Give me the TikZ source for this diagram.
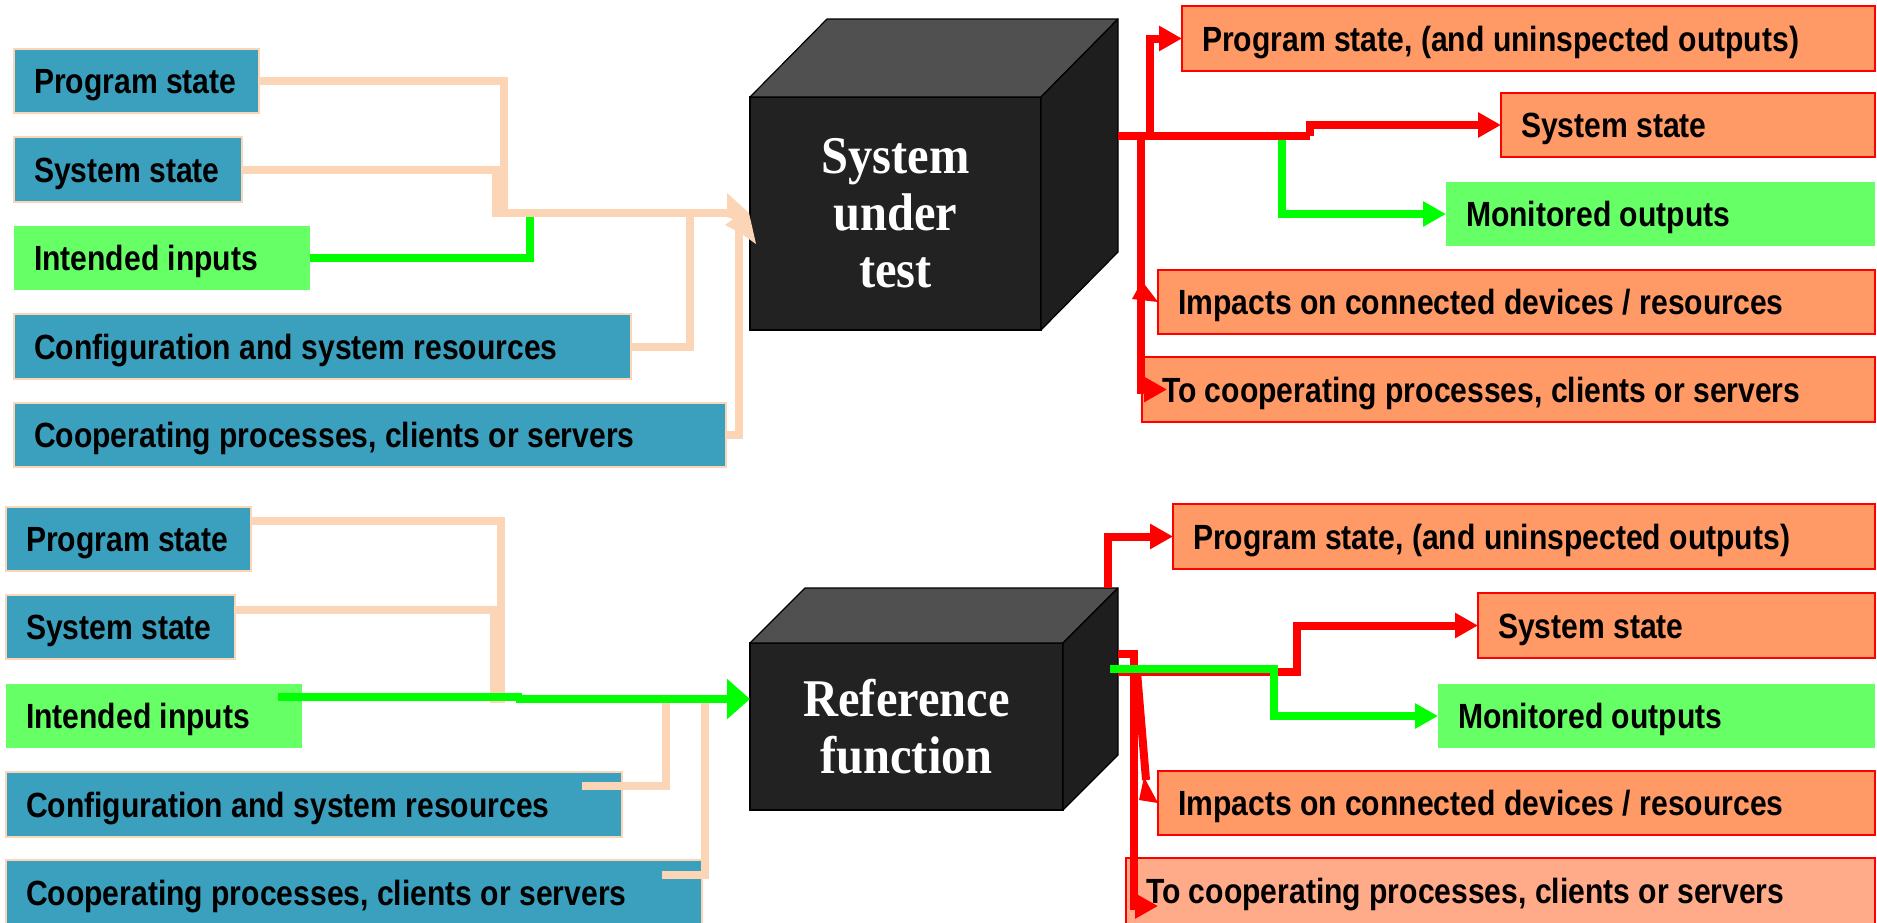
\documentclass[tikz,border=0pt]{standalone}
\usepackage{fontspec}
\setmainfont{Liberation Sans}
\newfontfamily\labelfont[FakeStretch=0.86]{Liberation Sans}
\newfontfamily\cubefont[FakeStretch=0.915]{Liberation Serif}
\usetikzlibrary{arrows.meta,calc}

\definecolor{inblue}{HTML}{3B9FBE}
\definecolor{peach}{HTML}{FBD5B5}
\definecolor{salmon}{HTML}{FF9966}
\definecolor{lightsalmon}{HTML}{FFAA88}
\definecolor{okgreen}{HTML}{66FF66}
\definecolor{linegreen}{HTML}{00FF00}
\definecolor{cubefront}{HTML}{222222}
\definecolor{cubetop}{HTML}{505050}
\definecolor{cubeside}{HTML}{1E1E1E}

% fixed-width, left-aligned label text (width in pt)
\newcommand\lbl[2]{\makebox[#1pt][l]{#2}}

\tikzset{
  labelbox/.style={anchor=north west, inner xsep=10pt, inner ysep=0pt, outer sep=0pt,
    text height=12.5pt, text depth=0pt,
    font=\labelfont\bfseries\fontsize{17.5}{20}\selectfont},
  inbox/.style={labelbox, fill=inblue, draw=peach, line width=1pt},
  outbox/.style={labelbox, fill=salmon, draw=red, line width=1pt},
  goodbox/.style={labelbox, fill=okgreen},
  cubebox/.style={anchor=north west, fill=cubefront, draw=black, line width=0.6pt,
    outer sep=0pt, inner sep=0pt, text=white, align=center,
    font=\cubefont\bfseries\fontsize{26.5}{28.5}\selectfont},
  feed/.style={draw=peach, line width=4pt},
  good/.style={draw=linegreen, line width=4pt},
  bad/.style={draw=red, line width=4pt},
  tip/.style={-{Triangle[length=11.5pt,width=12pt]}},
  bigtip/.style={-{Triangle[length=11.5pt,width=19.5pt]}},
}

\begin{document}
\begin{tikzpicture}[x=0.5pt,y=-0.5pt]
\fill[white] (0,0) rectangle (1877,922);
\useasboundingbox (0,0) rectangle (1877,922);
\clip (0,0) rectangle (1877,922);

% ---------- upper row: system under test ----------
\node[inbox, minimum height=32pt] (ps1) at (14,49) {\lbl{102.5}{Program state}};
\node[inbox, minimum height=32.5pt] (ss1) at (14,137) {\lbl{94}{System state}};
\node[goodbox, minimum height=32pt] (ii1) at (14,226) {\lbl{128}{Intended inputs}};
\node[inbox, minimum height=32.5pt] (cf1) at (14,314) {\lbl{288.5}{Configuration and system resources}};
\node[inbox, minimum height=32pt] (cp1) at (14,403) {\lbl{336}{Cooperating processes, clients or servers}};

\node[outbox, minimum height=32.5pt] (po1) at (1182,6) {\lbl{326.5}{Program state, (and uninspected outputs)}};
\node[outbox, minimum height=32pt] (so1) at (1501,93) {\lbl{167}{System state}};
\node[goodbox, minimum height=32pt] (mo1) at (1446,182) {\lbl{194.5}{Monitored outputs}};
\node[outbox, minimum height=32pt] (im1) at (1158,270) {\lbl{338.5}{Impacts on connected devices / resources}};
\node[outbox, minimum height=32.5pt] (tc1) at (1142,357) {\lbl{346.5}{To cooperating processes, clients or servers}};

% cube
\node[cubebox, minimum width=145.5pt, minimum height=116.5pt] (sut) at (750,97) {System\\under\\test};
\filldraw[fill=cubetop, draw=black, line width=0.6pt, line join=round]
  (sut.north west) -- ++(77,-78) -- ++(291,0) -- (sut.north east) -- cycle;
\filldraw[fill=cubeside, draw=black, line width=0.6pt, line join=round]
  (sut.north east) -- ++(77,-78) -- ++(0,233) -- (sut.south east) -- cycle;

% inputs
\draw[good] (ii1.east) -| (530,213);
\draw[feed] (ps1.east) -| (504,213);
\draw[feed] (cf1.east) -| (690,213);
\draw[feed] (cp1.east) -| (739,230);
\draw[feed] (ss1.east) -| (496,213) -- (727,213);
\fill[peach] (727,193) -- (749,213) -- (756,244) -- (739,232) -- (725,225)
  -- (733,219) -- (727,217) -- cycle;

% outputs
\coordinate (sutout) at (1118,136);
\draw[good, tip] (1282,139) |- (mo1.west);
\draw[bad] (sutout) -- (1310,136);
\draw[bad, tip] (1310,136) |- (so1.west);
\draw[bad, tip] (1150,136) |- (po1.west);
\draw[bad, tip] (1141,136) |- ($(tc1.west)+(25,0)$);
\fill[red] (im1.west) -- ++(-16,-21) -- ++(-10,18) -- cycle;

% ---------- lower row: reference function ----------
\node[inbox, minimum height=32pt] (ps2) at (6,507) {\lbl{102.5}{Program state}};
\node[inbox, minimum height=32pt] (ss2) at (6,595) {\lbl{94.5}{System state}};
\node[goodbox, minimum height=32pt] (ii2) at (6,684) {\lbl{128}{Intended inputs}};
\node[inbox, minimum height=32.5pt] (cf2) at (6,772) {\lbl{288}{Configuration and system resources}};
\node[inbox, minimum height=33pt] (cp2) at (6,860) {\lbl{328}{Cooperating processes, clients or servers}};

\node[outbox, minimum height=32.5pt] (po2) at (1173,504) {\lbl{331}{Program state, (and uninspected outputs)}};
\node[outbox, minimum height=32.5pt] (so2) at (1478,593) {\lbl{178.5}{System state}};
\node[goodbox, minimum height=32pt] (mo2) at (1438,684) {\lbl{198.5}{Monitored outputs}};
\node[outbox, minimum height=32pt] (im2) at (1158,771) {\lbl{338.5}{Impacts on connected devices / resources}};
\node[outbox, fill=lightsalmon, minimum height=33pt] (tc2) at (1126,858) {\lbl{354.5}{To cooperating processes, clients or servers}};

% cube
\node[cubebox, minimum width=156.5pt, minimum height=83.5pt] (rf) at (750,643) {Reference\\function};
\filldraw[fill=cubetop, draw=black, line width=0.6pt, line join=round]
  (rf.north west) -- ++(55,-55) -- ++(313,0) -- (rf.north east) -- cycle;
\filldraw[fill=cubeside, draw=black, line width=0.6pt, line join=round]
  (rf.north east) -- ++(55,-55) -- ++(0,167) -- (rf.south east) -- cycle;

% inputs
\draw[feed] ([yshift=-7pt]ps2.north east) -| (501,703);
\draw[feed] ([yshift=-7.25pt]ss2.north east) -| (494,703);
\draw[feed] ([xshift=-20pt,yshift=-7pt]cf2.north east) -| (666,703);
\draw[feed] ([xshift=-20pt,yshift=-7.5pt]cp2.north east) -| (705,703);
\coordinate (rfin) at ($(rf.north west)+(0,56)$);
\draw[good] ([xshift=-12pt,yshift=-6.5pt]ii2.north east) -- (518,697) -- (518,699);
\draw[good, bigtip] (516,699) -- (rfin);

% outputs
\draw[bad, tip] (1108,588) |- (po2.west);
\draw[bad] (1118,654) -| (1134,672);
\draw[bad, tip] (1134,654) |- ($(tc2.west)+(32,15)$);
\draw[bad, tip] (1118,672) -| (1297,640) |- (so2.west);
\draw[bad] (1137,672) -- (1146,780);
\fill[red] (im2.west) -- ++(-14,-26) -- ++(-5,23) -- cycle;
\draw[good, tip] (1110,669) -| (1274,716) -- (mo2.west);
\end{tikzpicture}
\end{document}
